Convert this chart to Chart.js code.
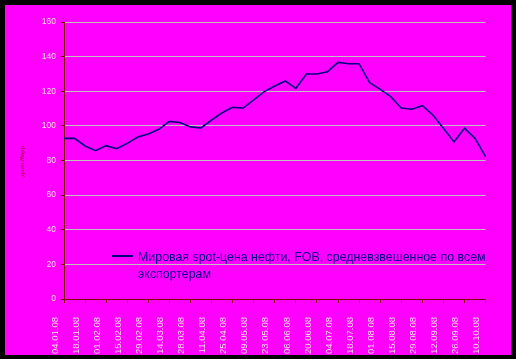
<!DOCTYPE html>
<html>
<head>
<meta charset="utf-8">
<script src="https://cdn.jsdelivr.net/npm/chart.js@4"></script>
<style>
    body { margin: 0; background: #000; width: 516px; height: 359px; overflow: hidden; }
    #painel { position: absolute; left: 5px; top: 5px; width: 506px; height: 350px; background: #ff00ff; }
    #grafico { position: absolute; left: 0; top: 0; }
    #legenda { position: absolute; left: 107px; top: 244px; font: 12.4px Arial, 'Liberation Sans', sans-serif; color: #000080; }
    #legenda .linha { position: absolute; left: 0; top: 6px; width: 21px; height: 2px; background: #000080; }
    #legenda .texto { position: absolute; left: 26px; top: 0; width: 370px; line-height: 17px; }
</style>
</head>
<body>
<div id="painel">
    <canvas id="grafico" width="506" height="350"></canvas>
    <div id="legenda"><div class="linha"></div><div class="texto" id="legendaTexto"></div></div>
</div>
<script>
// Datas (semanal)
const datas = ['04.01.08', '11.01.08', '18.01.08', '25.01.08', '01.02.08', '08.02.08', '15.02.08', '22.02.08',
    '29.02.08', '07.03.08', '14.03.08', '21.03.08', '28.03.08', '04.04.08', '11.04.08', '18.04.08',
    '25.04.08', '02.05.08', '09.05.08', '16.05.08', '23.05.08', '30.05.08', '06.06.08', '13.06.08',
    '20.06.08', '27.06.08', '04.07.08', '11.07.08', '18.07.08', '25.07.08', '01.08.08', '08.08.08',
    '15.08.08', '22.08.08', '29.08.08', '05.09.08', '12.09.08', '19.09.08', '26.09.08', '03.10.08',
    '10.10.08'];

// Цена нефти
const precos = [92.8, 92.8, 88.4, 85.7, 88.6, 86.8, 89.9, 93.6, 95.3, 98.0, 102.6, 102.0, 99.4, 98.8,
    103.4, 107.6, 110.7, 110.3, 115.0, 119.8, 123.0, 125.9, 121.7, 130.0, 130.0, 131.3, 136.7, 135.9,
    135.9, 125.0, 121.1, 116.9, 110.3, 109.6, 111.7, 106.3, 98.6, 90.7, 98.6, 92.8, 82.2];

const nomeSerie = 'Мировая spot-цена нефти, FOB, средневзвешенное по всем экспортерам';
const tituloY = 'долл./барр.';
const ticksY = [0, 20, 40, 60, 80, 100, 120, 140, 160];

const fonte = "Arial, 'Liberation Sans', sans-serif";
const corEixo = '#800000';
const corTexto = '#ffe0e6';

document.getElementById('legendaTexto').textContent = nomeSerie;

const ctx = document.getElementById('grafico').getContext('2d');
new Chart(ctx, {
    type: 'line',
    data: {
        labels: datas,
        datasets: [{
            label: nomeSerie,
            data: precos,
            borderColor: '#000080',
            borderWidth: 1.6,
            pointRadius: 0,
            tension: 0,
            fill: false
        }]
    },
    options: {
        responsive: false,
        animation: false,
        layout: { padding: { top: 17, right: 9, left: 0, bottom: 0 } },
        plugins: { legend: { display: false }, tooltip: { enabled: false } },
        scales: {
            x: {
                type: 'category',
                offset: false,
                afterFit: s => { s.height = 56; },
                border: { color: corEixo, width: 1 },
                grid: {
                    drawOnChartArea: false,
                    tickLength: 4,
                    color: c => (c.index % 2 ? 'rgba(0,0,0,0)' : corEixo)
                },
                ticks: {
                    autoSkip: false,
                    minRotation: 90,
                    maxRotation: 90,
                    padding: 14,
                    labelOffset: -9,
                    color: corTexto,
                    font: { family: fonte, size: 9.5 },
                    callback: (v, i) => (i % 2 ? '' : datas[i])
                }
            },
            y: {
                min: 0,
                max: 160,
                afterFit: s => { s.width = 59; },
                afterBuildTicks: s => { s.ticks = ticksY.map(v => ({ value: v })); },
                border: { color: corEixo, width: 1 },
                grid: { color: '#c0c0c0', tickColor: corEixo, tickLength: 3, lineWidth: 1 },
                ticks: { padding: 5, color: corTexto, font: { family: fonte, size: 8.5 } },
                title: {
                    display: true,
                    text: tituloY,
                    color: corEixo,
                    font: { family: fonte, size: 6 },
                    padding: { top: 14, bottom: 0 }
                }
            }
        }
    }
});
</script>
</body>
</html>
